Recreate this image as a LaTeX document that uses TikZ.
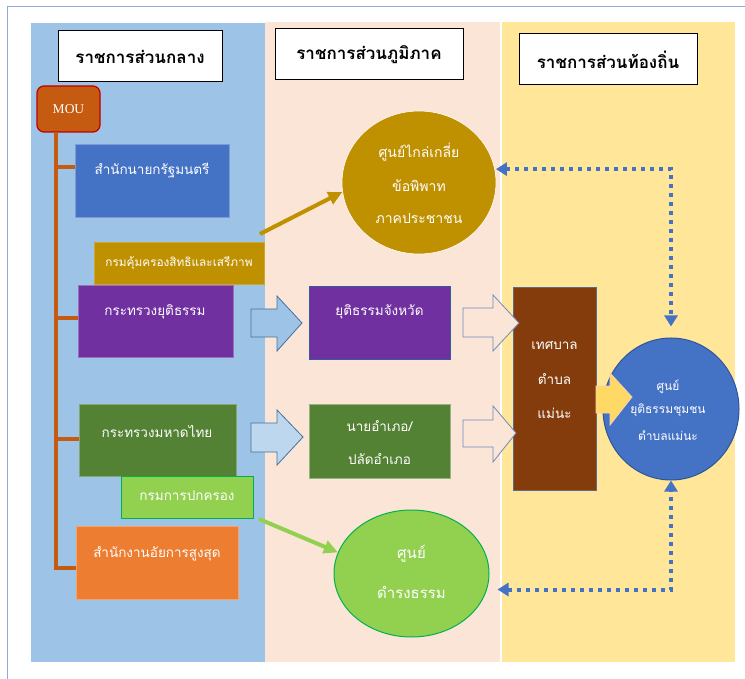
\documentclass[tikz,border=0pt]{standalone}
\usepackage{fontspec}
\setmainfont{Liberation Serif}
\newfontfamily\thai[Script=Thai]{Loma}
\usetikzlibrary{arrows.meta,shapes.geometric,calc}
\definecolor{framec}{HTML}{8EA9DB}
\definecolor{colblue}{HTML}{9DC3E6}
\definecolor{colpeach}{HTML}{FBE5D6}
\definecolor{colyellow}{HTML}{FFE699}
\definecolor{mouc}{HTML}{C55A11}
\definecolor{mour}{HTML}{C00000}
\definecolor{cblue}{HTML}{4472C4}
\definecolor{cgold}{HTML}{BF9000}
\definecolor{cpurple}{HTML}{7030A0}
\definecolor{cgreen}{HTML}{548235}
\definecolor{clgreen}{HTML}{92D050}
\definecolor{clgreenb}{HTML}{00B050}
\definecolor{corange}{HTML}{ED7D31}
\definecolor{cbrown}{HTML}{843C0C}
\definecolor{cbrownb}{HTML}{5B6B8C}
\definecolor{cbluedk}{HTML}{2F5597}
\definecolor{arrb}{HTML}{41719C}
\definecolor{arrlb}{HTML}{BDD7EE}
\definecolor{arrpb}{HTML}{6F8BC0}
\definecolor{cyell}{HTML}{FFD966}
\definecolor{cyellb}{HTML}{F4B183}
\tikzset{
  hdr/.style={draw=black, line width=1pt, fill=white, font=\thai\bfseries\fontsize{17}{20}\selectfont, inner sep=0pt},
  boxc/.style={inner sep=0pt, line width=0.6pt},
  wt/.style={text=white, font=\thai\fontsize{13.5}{16}\selectfont, inner sep=0pt},
  tree/.style={draw=mouc, line width=4pt},
  dotarrow/.style={draw=cblue, line width=4pt, dash pattern=on 4pt off 5pt, {Triangle[length=11pt,width=13pt]}-{Triangle[length=11pt,width=13pt]}},
  blk/.style={line width=0.8pt, line join=miter},
}
\begin{document}
\begin{tikzpicture}[x=1pt,y=-1pt]
\useasboundingbox (0,0) rectangle (745,679);
\fill[white] (0,0) rectangle (745,679);
\draw[framec, line width=1pt] (745,7) -- (7,7) -- (7,679);
% columns
\fill[colblue] (31,23) rectangle (265,662);
\fill[colpeach] (265,22) rectangle (500,662);
\fill[colyellow] (502,22) rectangle (735,662);
% headers
\node[hdr, minimum width=164, minimum height=51] (h1) at (140,56.5) {ราชการส่วนกลาง};
\node[hdr, minimum width=188, minimum height=51] (h2) at (369,54.5) {ราชการส่วนภูมิภาค};
\node[hdr, minimum width=178, minimum height=51] (h3) at (608,59.5) {ราชการส่วนท้องถิ่น};
% MOU and tree
\node[boxc, fill=mouc, draw=mour, line width=1.2pt, rounded corners=7pt, minimum width=63, minimum height=46, text=white, font=\fontsize{13.5}{16}\selectfont] (mou) at (68.5,109) {MOU};
\coordinate (t0) at (56,132);
\coordinate (t1) at (56,167);
\coordinate (t2) at (56,318);
\coordinate (t3) at (56,439);
\coordinate (t4) at (56,570);
% left boxes
\node[boxc, fill=cblue, draw=cblue!70!white, minimum width=154, minimum height=73] (pm) at (152,180.5) {};
\node[boxc, fill=cpurple, draw=cpurple!70!white, minimum width=155, minimum height=72] (moj) at (155.5,321) {};
\node[boxc, fill=cgold, draw=cgold!80!white, minimum width=170, minimum height=42] (rights) at (179,263) {};
\node[boxc, fill=cgreen, draw=cgreen!70!white, minimum width=157, minimum height=72] (moi) at (157.5,440) {};
\node[boxc, fill=clgreen, draw=clgreenb, line width=1pt, minimum width=132, minimum height=42] (dopa) at (187,497) {};
\node[boxc, fill=corange, draw=corange!70!white, minimum width=162, minimum height=73] (ag) at (157,562.5) {};
\draw[tree] (t0) -- (t4);
\draw[tree] (t1) -- (t1 -| pm.west);
\draw[tree] (t2) -- (t2 -| moj.west);
\draw[tree] (t3) -- (t3 -| moi.west);
\draw[tree] ([yshift=2pt]t4) -- ([yshift=2pt]t4 -| ag.west);
\node[wt] (tpm) at (152,171) {สำนักนายกรัฐมนตรี};
\node[wt, font=\thai\fontsize{11.8}{14}\selectfont] (trights) at (179,263) {กรมคุ้มครองสิทธิและเสรีภาพ};
\node[wt] (tmoj) at (155,312) {กระทรวงยุติธรรม};
\node[wt] (tmoi) at (157,431) {กระทรวงมหาดไทย};
\node[wt] (tdopa) at (187,496) {กรมการปกครอง};
\node[wt] (tag) at (157,554) {สำนักงานอัยการสูงสุด};
% middle boxes
\node[boxc, fill=cpurple, draw=cblue!80!black, minimum width=141, minimum height=73] (pjus) at (379.5,322.5) {};
\node[boxc, fill=cgreen, draw=cgreen!60!white, minimum width=141, minimum height=74] (amp) at (379.5,441) {};
\node[wt] (tpjus) at (379.5,312) {ยุติธรรมจังหวัด};
\node[wt] (tamp1) at (379.5,426) {นายอำเภอ/};
\node[wt] (tamp2) at (379.5,459) {ปลัดอำเภอ};
\node[ellipse, fill=cgold, draw=white, line width=0.6pt, minimum width=154, minimum height=143, inner sep=0pt] (med) at (419,182.5) {};
\node[wt, font=\thai\fontsize{14}{16}\selectfont] (tmed1) at (419,152) {ศูนย์ไกล่เกลี่ย};
\node[wt, font=\thai\fontsize{14}{16}\selectfont] (tmed2) at (419,186) {ข้อพิพาท};
\node[wt, font=\thai\fontsize{14}{16}\selectfont] (tmed3) at (419,218) {ภาคประชาชน};
\node[ellipse, fill=clgreen, draw=clgreenb, line width=1pt, minimum width=155, minimum height=127, inner sep=0pt] (dam) at (411.5,573.5) {};
\node[wt, font=\thai\fontsize{15}{18}\selectfont] (tdam1) at (411.5,554) {ศูนย์};
\node[wt, font=\thai\fontsize{15}{18}\selectfont] (tdam2) at (411.5,592) {ดำรงธรรม};
% block arrows left -> middle
\draw[blk, fill=colblue, draw=arrb] (251,309) -- (277,309) -- (277,296) -- (302,323) -- (277,351) -- (277,337) -- (251,337) -- cycle;
\draw[blk, fill=arrlb, draw=arrb] (251,423) -- (277,423) -- (277,410) -- (303,437) -- (277,465) -- (277,452) -- (251,452) -- cycle;
% right
\node[boxc, fill=cbrown, draw=cbrownb, line width=1pt, minimum width=83, minimum height=202] (muni) at (554.5,389) {};
\node[wt] (tmuni1) at (554.5,346) {เทศบาล};
\node[wt] (tmuni2) at (554.5,379) {ตำบล};
\node[wt] (tmuni3) at (554.5,413) {แม่นะ};
% block arrows middle -> right
\draw[blk, fill=colpeach, draw=arrpb] (463,308) -- (493,308) -- (493,295) -- (519,323) -- (493,351) -- (493,337) -- (463,337) -- cycle;
\draw[blk, fill=colpeach, draw=arrpb] (463,420) -- (493,420) -- (493,406) -- (516,433) -- (493,462) -- (493,447) -- (463,447) -- cycle;
\node[ellipse, fill=cblue, draw=cbluedk, line width=1pt, minimum width=136, minimum height=142, inner sep=0pt] (jc) at (671,409) {};
\node[wt, font=\thai\fontsize{12}{14}\selectfont] (tjc1) at (668,387) {ศูนย์};
\node[wt, font=\thai\fontsize{12}{14}\selectfont] (tjc2) at (668,410) {ยุติธรรมชุมชน};
\node[wt, font=\thai\fontsize{12}{14}\selectfont] (tjc3) at (668,436) {ตำบลแม่นะ};
\draw[blk, fill=cyell, draw=cyellb!60!white] (596,386) -- (610,386) -- (610,373) -- (632,397) -- (610,425) -- (610,413) -- (596,413) -- cycle;
% connectors
\coordinate (gs) at (260,234);
\draw[draw=cgold, line width=4pt, -{Triangle[length=14pt,width=13pt]}] (gs) -- (med.187);
\coordinate (ls) at (259,519);
\draw[draw=clgreen, line width=4pt, -{Triangle[length=14pt,width=13pt]}] (ls) -- (dam.164);
\draw[dotarrow, shorten >=11pt, shorten <=1pt] (med.10) -| (jc.north);
\draw[dotarrow, shorten <=2pt] ($(dam.east)+(6,16)$) -| (jc.south);
\end{tikzpicture}
\end{document}
